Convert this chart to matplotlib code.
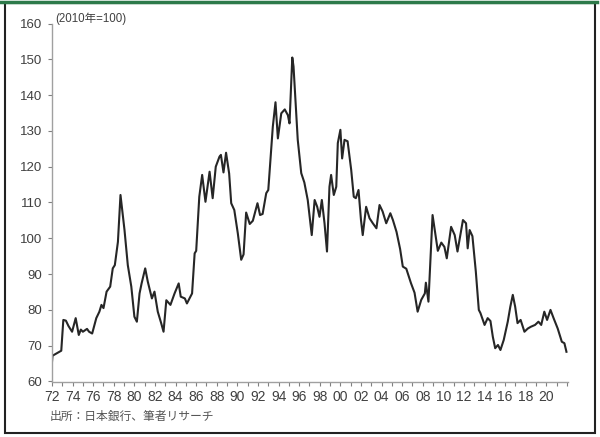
import matplotlib
matplotlib.use("Agg")
import matplotlib.pyplot as plt
from matplotlib.patches import Rectangle
from matplotlib.lines import Line2D

plt.rcParams['font.family'] = ['Liberation Sans', 'Noto Sans CJK JP', 'DejaVu Sans']

years = [1972.0, 1972.05, 1972.9, 1973.1, 1973.35, 1973.6, 1973.95, 1974.3, 1974.6, 1974.8,
         1975.0, 1975.4, 1975.6, 1975.9, 1976.3, 1976.6, 1976.8, 1977.0, 1977.3, 1977.65,
         1977.9, 1978.1, 1978.4, 1978.65, 1979.04, 1979.36, 1979.7, 1980.0, 1980.24, 1980.5,
         1980.7, 1981.05, 1981.3, 1981.7, 1981.95, 1982.27, 1982.6, 1982.83, 1983.1, 1983.5,
         1983.9, 1984.3, 1984.5, 1984.9, 1985.1, 1985.6, 1985.85, 1986.0, 1986.3, 1986.58,
         1986.9, 1987.3, 1987.6, 1987.9, 1988.26, 1988.4, 1988.65, 1988.9, 1989.2, 1989.4,
         1989.7, 1990.04, 1990.37, 1990.6, 1990.85, 1991.2, 1991.5, 1991.95, 1992.2, 1992.45,
         1992.8, 1993.0, 1993.44, 1993.7, 1993.93, 1994.26, 1994.6, 1994.9, 1995.06, 1995.33,
         1995.45, 1995.86, 1996.2, 1996.5, 1996.83, 1997.22, 1997.5, 1997.75, 1997.97, 1998.2,
         1998.46, 1998.7, 1998.94, 1999.1, 1999.36, 1999.6, 1999.75, 2000.0, 2000.17, 2000.4,
         2000.7, 2001.05, 2001.3, 2001.5, 2001.76, 2002.0, 2002.17, 2002.5, 2002.83, 2003.15,
         2003.5, 2003.8, 2004.1, 2004.45, 2004.85, 2005.1, 2005.45, 2005.8, 2006.06, 2006.4,
         2006.85, 2007.2, 2007.5, 2007.85, 2008.2, 2008.3, 2008.55, 2008.95, 2009.1, 2009.46,
         2009.8, 2010.1, 2010.33, 2010.75, 2011.1, 2011.37, 2011.9, 2012.2, 2012.36, 2012.55,
         2012.82, 2013.15, 2013.44, 2013.6, 2014.0, 2014.3, 2014.57, 2014.8, 2015.03, 2015.3,
         2015.54, 2015.86, 2016.25, 2016.5, 2016.74, 2016.97, 2017.2, 2017.5, 2017.87, 2018.2,
         2018.5, 2018.9, 2019.23, 2019.5, 2019.8, 2020.07, 2020.4, 2020.7, 2021.1, 2021.5,
         2021.75, 2021.95]

reer = [65.5, 67.2, 68.6, 77.2, 77.0, 75.5, 73.9, 77.7, 73.0, 74.5,
        73.9, 74.7, 73.9, 73.4, 77.7, 79.5, 81.4, 80.5, 85.1, 86.5,
        91.6, 92.5, 99.0, 112.1, 102.3, 92.5, 86.5, 78.1, 76.7, 84.6,
        87.4, 91.6, 87.9, 83.2, 85.1, 79.5, 76.3, 73.9, 82.7, 81.4,
        84.6, 87.4, 83.7, 83.2, 81.8, 84.6, 95.8, 96.5, 111.6, 117.7,
        110.2, 118.6, 111.2, 120.0, 122.8, 123.3, 118.4, 123.9, 118.1, 109.8,
        107.9, 101.4, 94.0, 95.5, 107.2, 104.0, 104.9, 109.8, 106.5, 106.8,
        112.6, 113.5, 131.2, 138.0, 127.9, 134.9, 136.0, 134.4, 132.1, 150.5,
        148.0, 127.5, 118.2, 115.6, 110.7, 100.9, 110.7, 108.8, 106.0, 110.7,
        104.2, 96.3, 114.4, 117.7, 112.1, 114.4, 126.6, 130.3, 122.3, 127.5,
        127.1, 119.1, 111.6, 111.2, 113.5, 105.1, 100.9, 108.8, 105.6, 104.2,
        102.8, 109.3, 107.5, 104.2, 107.0, 105.1, 101.8, 97.0, 92.1, 91.5,
        87.5, 84.8, 79.5, 82.8, 84.6, 87.6, 82.3, 106.5, 103.5, 96.5,
        98.8, 97.6, 94.4, 103.2, 100.9, 96.3, 105.1, 104.2, 97.2, 102.3,
        100.6, 90.7, 80.0, 79.1, 75.8, 77.7, 76.9, 72.5, 69.3, 70.2,
        68.8, 71.6, 76.7, 80.9, 84.2, 80.9, 76.3, 77.2, 73.9, 74.8,
        75.3, 75.8, 76.7, 75.8, 79.5, 77.2, 80.0, 77.7, 74.8, 71.1,
        70.7, 68.3]

tick_years = list(range(1972, 2022, 2))
tick_labels = [f"{y % 100:02d}" for y in tick_years]

fig = plt.figure(figsize=(6.0, 4.37), dpi=100)
ax = fig.add_axes([52/600, 1-381.5/437, (568-52)/600, (381.5-23.5)/437])

ax.plot(years, reer, color='#262626', lw=1.5, solid_joinstyle='round')

ax.set_xlim(1972, 2022.1)
ax.set_ylim(60, 160)
ax.set_yticks(range(60, 161, 10))
ax.set_xticks(tick_years)
ax.set_xticklabels(tick_labels)
ax.set_xticks(range(1972, 2023), minor=True)

for s in ['top', 'right']:
    ax.spines[s].set_visible(False)
for s in ['left', 'bottom']:
    ax.spines[s].set_color('#a0a0a0')
    ax.spines[s].set_linewidth(1.0)

ax.tick_params(axis='both', which='both', direction='out', color='#808080', length=3, width=0.8)
ax.tick_params(axis='y', labelsize=9.5, labelcolor='#404040', pad=4)
ax.tick_params(axis='x', labelsize=10, labelcolor='#404040', pad=3)

fig.text(55/600, 1-19/437, '(2010年=100)', fontsize=8.3, color='#404040', va='center', ha='left')
fig.text(50/600, 1-417/437, '出所：日本銀行、筆者リサーチ', fontsize=8.5, color='#555555', va='center', ha='left')

# frame around the figure
fig.add_artist(Rectangle((4.5/600, 4/437), (595-4.5)/600, (434-4)/437,
                         transform=fig.transFigure, fill=False, edgecolor='#222222', lw=1.5))
fig.add_artist(Line2D([0, 597/600], [1-1.5/437, 1-1.5/437], transform=fig.transFigure,
                      color='#2d7a4a', lw=2.5))

fig.savefig('out.png', dpi=100)
